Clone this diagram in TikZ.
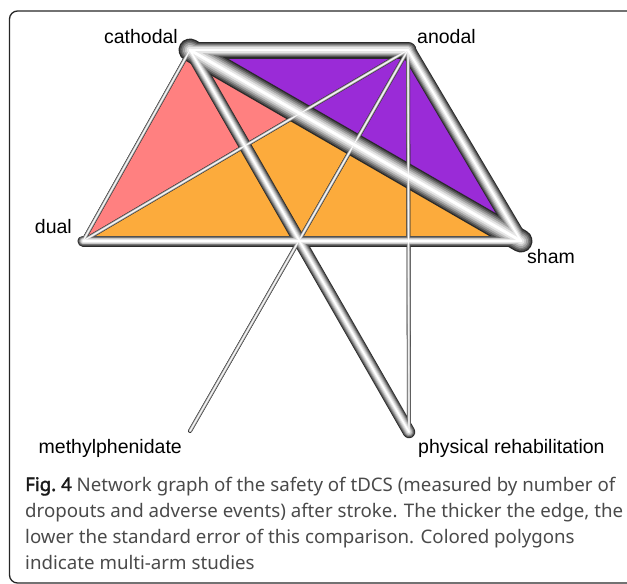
\documentclass[tikz,border=0pt]{standalone}
\usepackage{fontspec}
\setmainfont{Liberation Sans}
\newfontfamily\capfont{Noto Sans}[AutoFakeBold=2.2]
\definecolor{tubeA}{HTML}{2A2A2A}
\definecolor{tubeB}{HTML}{505050}
\definecolor{tubeC}{HTML}{787878}
\definecolor{tubeD}{HTML}{A0A0A0}
\definecolor{tubeE}{HTML}{C6C6C6}
\definecolor{tubeF}{HTML}{E6E6E6}
\definecolor{pinkpoly}{HTML}{FF8080}
\definecolor{orangepoly}{HTML}{FCAB3C}
\definecolor{purplepoly}{HTML}{9A2BD7}
\definecolor{captext}{HTML}{4A4A4A}
\tikzset{
  lab/.style={inner sep=0pt, font=\fontsize{19.5}{22}\selectfont},
  capline/.style={inner sep=0pt, anchor=base west, text=captext, font=\capfont\fontsize{18.7}{26}\selectfont},
  poly/.style={draw=black, line width=0.6pt},
  tubelayer/.style={line cap=round}
}
\begin{document}
\begin{tikzpicture}[x=1pt,y=-1pt]
\useasboundingbox (0,0) rectangle (627,584);
\draw[line width=1.3pt, rounded corners=8pt, color=black!85] (9.5,11) rectangle (660,583);

\coordinate (cat) at (190,50);
\coordinate (ano) at (408,50);
\coordinate (dua) at (83,241);
\coordinate (sha) at (521,241);
\coordinate (met) at (190,431);
\coordinate (phy) at (409,432);

% multi-arm polygons
\fill[pinkpoly, poly] (cat) -- (dua) -- (sha) -- cycle;
\fill[orangepoly, poly] (dua) -- (ano) -- (sha) -- cycle;
\fill[purplepoly, poly] (cat) -- (ano) -- (sha) -- cycle;

% edges: shaded tubes, drawn layer by layer so joints merge
\foreach \f/\c in {1/tubeA,0.88/tubeB,0.75/tubeC,0.61/tubeD,0.46/tubeE,0.3/tubeF,0.13/white}{
  \foreach \a/\b/\w in {cat/sha/23, cat/ano/17, ano/sha/15, dua/sha/11, cat/phy/12.5,
                        cat/dua/4, ano/dua/4, ano/met/4, ano/phy/4}{
    \draw[tubelayer, line width=\f*\w, color=\c] (\a) -- (\b);
  }
}

% labels
\node[lab, anchor=base east] (lcat) at (178,43) {cathodal};
\node[lab, anchor=base west] (lano) at (417,43) {anodal};
\node[lab, anchor=base east] (ldua) at (72,233) {dual};
\node[lab, anchor=base west] (lsha) at (527,263) {sham};
\node[lab, anchor=base east] (lmet) at (182,453) {methylphenidate};
\node[lab, anchor=base west] (lphy) at (418,453) {physical rehabilitation};

% caption
\node[capline] (c1) at (25,491) {{\bfseries\color{black!90}Fig.~4} Network graph of the safety of tDCS (measured by number of};
\node[capline] (c2) at (25,517) {dropouts and adverse events) after stroke. The thicker the edge, the};
\node[capline] (c3) at (25,543) {lower the standard error of this comparison. Colored polygons};
\node[capline] (c4) at (25,569) {indicate multi-arm studies};
\end{tikzpicture}
\end{document}
